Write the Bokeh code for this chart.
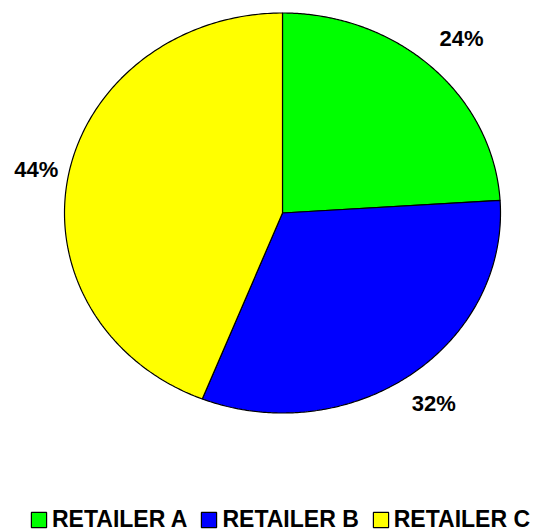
import numpy as np
from bokeh.plotting import figure
from bokeh.models import Range1d, Legend, LegendItem, ColumnDataSource
from bokeh.core.properties import value
from bokeh.embed import file_html
from bokeh.resources import INLINE

# Market share by retailer
retailers = ["RETAILER A", "RETAILER B", "RETAILER C"]
shares = [24, 32, 44]
labels = ["24%", "32%", "44%"]
colors = ["#00FF00", "#0000FF", "#FFFF00"]

W, H = 533, 531
# pixels per data unit horizontally / vertically (pie is drawn slightly wide)
px_x, px_y = 218.0, 200.0
cx_px, cy_px = 282.0, 212.5

p = figure(width=W, height=H, output_backend="svg", toolbar_location=None,
           x_range=Range1d(-cx_px / px_x, (W - cx_px) / px_x),
           y_range=Range1d(-(H - cy_px) / px_y, cy_px / px_y),
           min_border=0, outline_line_color=None)
p.axis.visible = False
p.grid.visible = False
p.background_fill_color = "white"
p.border_fill_color = "white"

total = float(sum(shares))
cum = np.concatenate([[0.0], np.cumsum(shares)]) / total
# angles measured clockwise from 12 o'clock
start_ang = np.pi / 2 - 2 * np.pi * cum[:-1]
end_ang = np.pi / 2 - 2 * np.pi * cum[1:]

items = []
for i, name in enumerate(retailers):
    t = np.linspace(start_ang[i], end_ang[i], 200)
    xs = np.concatenate([[0.0], np.cos(t), [0.0]])
    ys = np.concatenate([[0.0], np.sin(t), [0.0]])
    r = p.patch(xs, ys, fill_color=colors[i], line_color="black", line_width=1.2)
    items.append(LegendItem(label=name, renderers=[r]))

# percentage labels just outside each slice
mid = (start_ang + end_ang) / 2
lr = np.array([1.2, 1.18, 1.15])
src = ColumnDataSource(dict(x=lr * np.cos(mid), y=lr * np.sin(mid), t=labels))
p.text(x="x", y="y", text="t", source=src, text_align="center",
       text_baseline="middle", text_font=value("Liberation Sans"),
       text_font_style="bold", text_font_size="22px", text_color="black")

legend = Legend(items=items, orientation="horizontal", location=(29, -2),
                glyph_width=19, glyph_height=19, label_standoff=4, spacing=12,
                padding=0, margin=0, border_line_color=None,
                background_fill_alpha=0,
                label_text_font="Liberation Sans", label_text_font_style="bold",
                label_text_font_size="23px", label_text_color="black",
                label_height=20)
p.add_layout(legend, "center")

open("out.html", "w").write(file_html(p, INLINE))
